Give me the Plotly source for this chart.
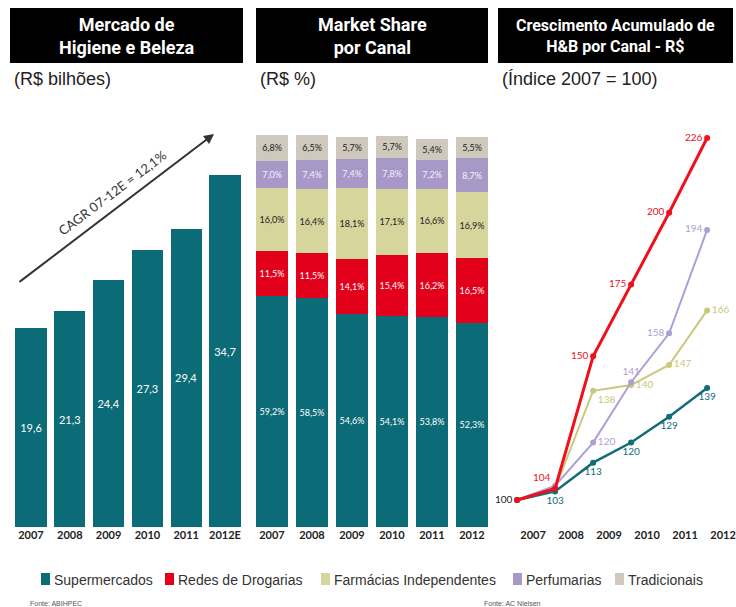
import plotly.graph_objects as go

W, H = 736, 607

# ---------------- data ----------------
years_left = ["2007", "2008", "2009", "2010", "2011", "2012E"]
market_size = [19.6, 21.3, 24.4, 27.3, 29.4, 34.7]

years_mid = ["2007", "2008", "2009", "2010", "2011", "2012"]
share_super = [59.2, 58.5, 54.6, 54.1, 53.8, 52.3]
share_redes = [11.5, 11.5, 14.1, 15.4, 16.2, 16.5]
share_farm = [16.0, 16.4, 18.1, 17.1, 16.6, 16.9]
share_perf = [7.0, 7.4, 7.4, 7.8, 7.2, 8.7]
share_trad = [6.8, 6.5, 5.7, 5.7, 5.4, 5.5]

years_line = ["2007", "2008", "2009", "2010", "2011", "2012"]
idx_super = [100, 103, 113, 120, 129, 139]
idx_redes = [100, 104, 150, 175, 200, 226]
idx_farm = [100, 104, 138, 140, 147, 166]
idx_perf = [100, 105, 120, 141, 158, 194]

series_names = ["Supermercados", "Redes de Drogarias", "Farmácias Independentes",
                "Perfumarias", "Tradicionais"]

C_TEAL = "#0b6b77"
C_RED = "#e2001a"
C_YEL = "#d6d59c"
C_PUR = "#a898c8"
C_GRY = "#cec9bc"
L_TEAL = "#136c78"
L_RED = "#f0101c"
L_YEL = "#c9c97c"
L_PUR = "#ad9fd6"

LABEL_FONT = "Lato, 'Open Sans', sans-serif"
HEAD_FONT = "Roboto, sans-serif"
TEXT_FONT = "'Liberation Sans', Arial, sans-serif"


def px(x):
    return x / W


def py(y):
    return 1 - y / H


def fmt(v, pct=False):
    s = f"{v:.1f}".replace(".", ",")
    return s + "%" if pct else s


fig = go.Figure()

# ---------------- left: market size ----------------
fig.add_trace(go.Bar(
    x=years_left, y=market_size, marker=dict(color=C_TEAL, line=dict(width=0)),
    text=[fmt(v) for v in market_size], textposition="inside",
    insidetextanchor="middle", textangle=0,
    textfont=dict(color="white", size=11, family=LABEL_FONT),
    xaxis="x", yaxis="y", showlegend=False, hoverinfo="skip",
))

# ---------------- middle: market share ----------------
mid_series = [
    (share_super, C_TEAL, "white"),
    (share_redes, C_RED, "white"),
    (share_farm, C_YEL, "#222222"),
    (share_perf, C_PUR, "#f4f0fa"),
    (share_trad, C_GRY, "#222222"),
]
for name, (vals, col, tcol) in zip(series_names, mid_series):
    fig.add_trace(go.Bar(
        x=years_mid, y=vals, name=name, marker=dict(color=col, line=dict(width=0)),
        text=[fmt(v, True) for v in vals], textposition="inside",
        insidetextanchor="middle", textangle=0,
        textfont=dict(color=tcol, size=9, family=LABEL_FONT),
        xaxis="x2", yaxis="y2", showlegend=False, hoverinfo="skip",
    ))

# ---------------- right: index lines ----------------
xi = list(range(len(years_line)))
line_specs = [
    (idx_farm, L_YEL, 2, ["", "", "138", "140", "147", "166"],
     ["middle right", "middle right", "bottom right", "middle right", "middle right", "middle right"]),
    (idx_perf, L_PUR, 2, ["", "", "120", "141", "158", "194"],
     ["middle right", "middle right", "middle right", "top center", "middle left", "middle left"]),
    (idx_super, L_TEAL, 2.5, ["", "103", "113", "120", "129", "139"],
     ["bottom center"] * 6),
    (idx_redes, L_RED, 3, ["100", "104", "150", "175", "200", "226"],
     ["middle left", "top left", "middle left", "middle left", "middle left", "middle left"]),
]
for vals, col, lw, txt, pos in line_specs:
    tcols = [col] * len(vals)
    if txt[0] == "100":
        tcols[0] = "#222222"
    fig.add_trace(go.Scatter(
        x=xi, y=vals, mode="lines+markers+text",
        line=dict(color=col, width=lw), marker=dict(color=col, size=6),
        text=txt, textposition=pos,
        textfont=dict(color=tcols, size=10, family=LABEL_FONT),
        cliponaxis=False, xaxis="x3", yaxis="y3", showlegend=False, hoverinfo="skip",
    ))

tickfont = dict(size=11, color="#222222", family=LABEL_FONT, weight="bold")
axis_common = dict(showgrid=False, zeroline=False, showline=False, ticks="", fixedrange=True)

fig.update_layout(
    width=W, height=H, margin=dict(l=0, r=0, t=0, b=0),
    paper_bgcolor="white", plot_bgcolor="white", barmode="stack", bargap=0.2,
    xaxis=dict(domain=[px(11.6), px(244.4)], type="category", tickfont=tickfont, **axis_common),
    yaxis=dict(domain=[py(527), py(135)], range=[0, 392 / 10.14], visible=False, **axis_common),
    xaxis2=dict(domain=[px(252), px(492)], type="category", tickfont=tickfont, **axis_common),
    yaxis2=dict(domain=[py(527), py(135)], range=[0, 100.3], visible=False, **axis_common),
    xaxis3=dict(domain=[px(500), px(735.6)], range=[-0.45, 5.75],
                tickvals=[i + 0.42 for i in xi], ticktext=years_line,
                tickfont=tickfont, **axis_common),
    yaxis3=dict(domain=[py(527), py(120)], range=[100 - 27 / 2.873, 100 + 380 / 2.873],
                visible=False, **axis_common),
)

shapes = []
annotations = []

# headers
headers = [
    (10, 243, "Mercado de<br>Higiene e Beleza", 18, "(R$ bilhões)"),
    (256, 488, "Market Share<br>por Canal", 18, "(R$ %)"),
    (498, 733, "Crescimento Acumulado de<br>H&B por Canal - R$", 16, "(Índice 2007 = 100)"),
]
for x0, x1, title, fs, sub in headers:
    shapes.append(dict(type="rect", xref="paper", yref="paper",
                       x0=px(x0), x1=px(x1), y0=py(63), y1=py(8),
                       fillcolor="black", line=dict(width=0), layer="below"))
    annotations.append(dict(xref="paper", yref="paper", x=px((x0 + x1) / 2), y=py(35.5),
                            text=f"<b>{title}</b>", showarrow=False, align="center",
                            xanchor="center", yanchor="middle",
                            font=dict(color="white", size=fs, family=HEAD_FONT)))
    annotations.append(dict(xref="paper", yref="paper", x=px(x0 + 2), y=py(79),
                            text=sub, showarrow=False, xanchor="left", yanchor="middle",
                            font=dict(color="#222222", size=18, family=TEXT_FONT)))

# CAGR arrow
annotations.append(dict(xref="paper", yref="paper", x=px(214), y=py(134),
                        ax=18 - 214, ay=283 - 134, axref="pixel", ayref="pixel",
                        text="", showarrow=True, arrowhead=2, arrowsize=1,
                        arrowwidth=2, arrowcolor="#333333"))
annotations.append(dict(xref="paper", yref="paper", x=px(112), y=py(193),
                        xanchor="center", yanchor="middle",
                        text="CAGR 07-12E = 12,1%", showarrow=False, textangle=-37,
                        font=dict(color="#333333", size=13, family=LABEL_FONT)))

# legend
legend_items = [
    (41, C_TEAL, series_names[0]),
    (165, C_RED, series_names[1]),
    (321, C_YEL, series_names[2]),
    (513, C_PUR, series_names[3]),
    (615, C_GRY, series_names[4]),
]
for lx, col, name in legend_items:
    shapes.append(dict(type="rect", xref="paper", yref="paper",
                       x0=px(lx), x1=px(lx + 9), y0=py(585), y1=py(573),
                       fillcolor=col, line=dict(width=0)))
    annotations.append(dict(xref="paper", yref="paper", x=px(lx + 11), y=py(579.5),
                            text=name, showarrow=False, xanchor="left", yanchor="middle",
                            font=dict(color="#333333", size=14, family=TEXT_FONT)))

# sources
annotations.append(dict(xref="paper", yref="paper", x=px(28), y=py(603),
                        text="Fonte: ABIHPEC", showarrow=False, xanchor="left", yanchor="middle",
                        font=dict(color="#555555", size=7, family=TEXT_FONT)))
annotations.append(dict(xref="paper", yref="paper", x=px(482), y=py(603),
                        text="Fonte: AC Nielsen", showarrow=False, xanchor="left", yanchor="middle",
                        font=dict(color="#555555", size=7, family=TEXT_FONT)))

fig.update_layout(shapes=shapes, annotations=annotations)
fig.write_html("out.html")
